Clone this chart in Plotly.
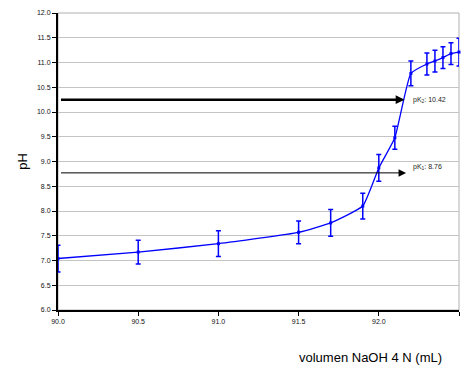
import plotly.graph_objects as go

# Data
vol = [90.0, 90.5, 91.0, 91.5, 91.7, 91.9, 92.0, 92.1, 92.2, 92.3, 92.35, 92.4, 92.45, 92.5]
ph = [7.04, 7.17, 7.34, 7.57, 7.76, 8.10, 8.87, 9.48, 10.78, 10.97, 11.03, 11.10, 11.18, 11.21]
ph_err = [0.27, 0.24, 0.26, 0.23, 0.27, 0.26, 0.27, 0.23, 0.25, 0.22, 0.22, 0.22, 0.22, 0.28]

pk_labels = ["pK<sub>2</sub>: 10.42", "pK<sub>1</sub>: 8.76"]
pk_arrow_y = [10.25, 8.77]
pk_arrow_x_end = [92.16, 92.17]
pk_widths = [2.5, 1.0]

x_ticks = [90.0, 90.5, 91.0, 91.5, 92.0, 92.5]
y_ticks = [6.0, 6.5, 7.0, 7.5, 8.0, 8.5, 9.0, 9.5, 10.0, 10.5, 11.0, 11.5, 12.0]

BLUE = "#0000ff"
FONT = "Liberation Sans"

fig = go.Figure()
fig.add_trace(go.Scatter(
    x=vol, y=ph, mode="lines+markers",
    line=dict(color=BLUE, width=1.3, shape="spline", smoothing=0.4),
    marker=dict(color=BLUE, size=3, symbol="square"),
    error_y=dict(type="data", array=ph_err, color=BLUE, thickness=1.5, width=2.5),
    cliponaxis=False, showlegend=False,
))

annotations = []
for lab, yv, xe, w in zip(pk_labels, pk_arrow_y, pk_arrow_x_end, pk_widths):
    annotations.append(dict(
        x=xe, y=yv, ax=90.0, ay=yv, xref="x", yref="y", axref="x", ayref="y",
        text=" ", showarrow=True, arrowhead=2, arrowsize=0.7 if w > 2 else 1.5,
        arrowwidth=w, arrowcolor="black", standoff=0,
    ))
annotations.append(dict(x=92.2, y=pk_arrow_y[0], xref="x", yref="y", text=pk_labels[0],
                        showarrow=False, xanchor="left", yanchor="middle",
                        font=dict(family=FONT, size=7, color="#222222")))
annotations.append(dict(x=92.2, y=pk_arrow_y[1] + 0.12, xref="x", yref="y", text=pk_labels[1],
                        showarrow=False, xanchor="left", yanchor="middle",
                        font=dict(family=FONT, size=7, color="#222222")))
annotations.append(dict(x=(370 - 58) / (459 - 58), y=-(357 - 310) / (310 - 13),
                        xref="paper", yref="paper", text="volumen NaOH 4 N (mL)",
                        showarrow=False, xanchor="center", yanchor="middle",
                        font=dict(family=FONT, size=13, color="black")))

fig.update_layout(
    width=463, height=366,
    margin=dict(l=58, r=4, t=13, b=56),
    paper_bgcolor="white", plot_bgcolor="white",
    font=dict(family=FONT, color="black"),
    annotations=annotations,
    shapes=[dict(type="rect", xref="paper", yref="paper", x0=0, x1=1, y0=0, y1=1,
                 line=dict(color="#b0b0b0", width=1), layer="below")],
    xaxis=dict(range=[90.0, 92.5], tickvals=x_ticks, tickformat=".1f",
               showgrid=False, zeroline=False, showline=True, linecolor="black", linewidth=2,
               ticks="outside", ticklen=4, tickcolor="black", tickwidth=1,
               tickfont=dict(family=FONT, size=7, color="#111111")),
    yaxis=dict(range=[6.0, 12.0], tickvals=y_ticks, tickformat=".1f",
               showgrid=True, gridcolor="#c4c4c4", gridwidth=1, zeroline=False,
               showline=True, linecolor="black", linewidth=2,
               ticks="outside", ticklen=4, tickcolor="black", tickwidth=1,
               tickfont=dict(family=FONT, size=7, color="#111111"),
               title=dict(text="pH", font=dict(family=FONT, size=13, color="black"), standoff=6)),
)

fig.write_html("out.html")
